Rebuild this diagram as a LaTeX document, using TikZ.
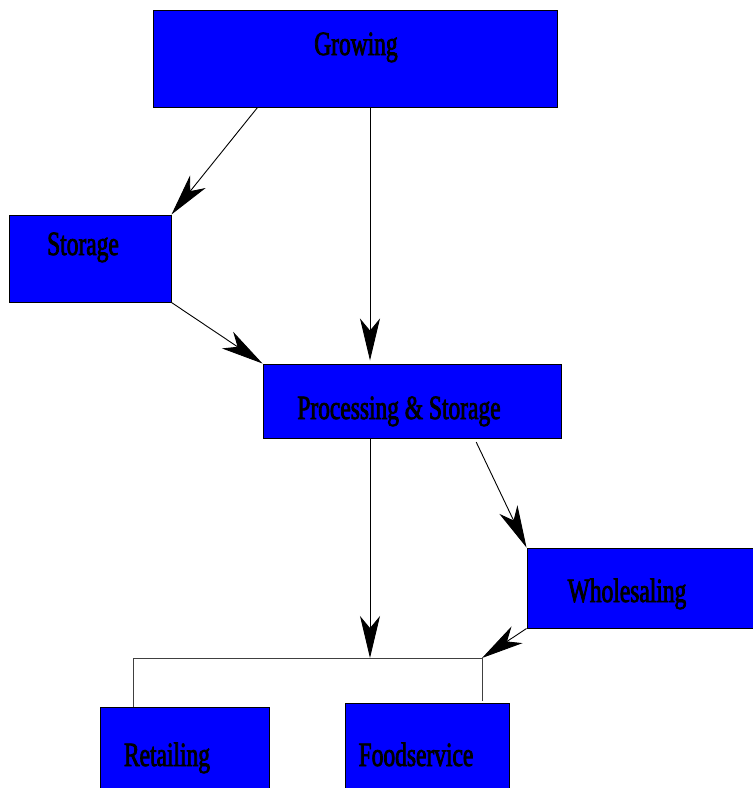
\documentclass[tikz,border=0pt]{standalone}
\usepackage{fontspec}
\setmainfont[FakeStretch=0.69,FakeBold=2.2]{Liberation Serif}
\usepackage{tikz}
\usetikzlibrary{arrows.meta}

\tikzset{
	box/.style={draw=black,fill=blue,line width=1pt,rectangle,inner sep=0pt},
	lbl/.style={anchor=base,inner sep=0pt,font=\fontsize{34}{36}\selectfont},
	arr/.style={draw=black,line width=.9pt,-{Stealth[length=42pt,width=20pt,inset=12pt]}},
	ln/.style={draw=black!75,line width=.9pt}
}

\begin{document}
\begin{tikzpicture}[x=1pt,y=-1pt]
		\useasboundingbox (0,0) rectangle (753,788);
		\node[box,minimum width=404pt,minimum height=97pt] (growing) at (355,58.5){};
		\node[box,minimum width=162pt,minimum height=87pt] (storage) at (90,258.5){};
		\node[box,minimum width=298pt,minimum height=74pt] (proc) at (412,401){};
		\node[box,minimum width=226pt,minimum height=80pt] (whole) at (640,588){};
		\node[box,minimum width=169pt,minimum height=84pt] (retail) at (184.5,749){};
		\node[box,minimum width=164pt,minimum height=88pt] (food) at (427,747){};
		\node[lbl] (growingtxt) at (356,55){Growing};
		\node[lbl] (storagetxt) at (83,255){Storage};
		\node[lbl] (proctxt) at (399,419){Processing \& Storage};
		\node[lbl] (wholetxt) at (627,602){Wholesaling};
		\node[lbl] (retailtxt) at (167,766){Retailing};
		\node[lbl] (foodtxt) at (416,766){Foodservice};
		\coordinate (jl) at (133,658);
		\coordinate (jm) at (370,658);
		\coordinate (jr) at (482,658);
		\draw[arr] ([xshift=105pt]growing.south west) -- (storage.north east);
		\draw[arr,shorten >=3pt] (growing.south -| jm) -- (proc.north -| jm);
		\draw[arr] (storage.south east) -- (proc.north west);
		\draw[arr,shorten <=4pt] ([xshift=212pt]proc.south west) -- (whole.north west);
		\draw[arr] (proc.south -| jm) -- (jm);
		\draw[arr] (whole.south west) -- (jr);
		\draw[ln] (jl) -- (jr);
		\draw[ln] (jl) -- (jl |- retail.north);
		\draw[ln,shorten >=2pt] (jr) -- (jr |- food.north);
	\end{tikzpicture}
\end{document}
